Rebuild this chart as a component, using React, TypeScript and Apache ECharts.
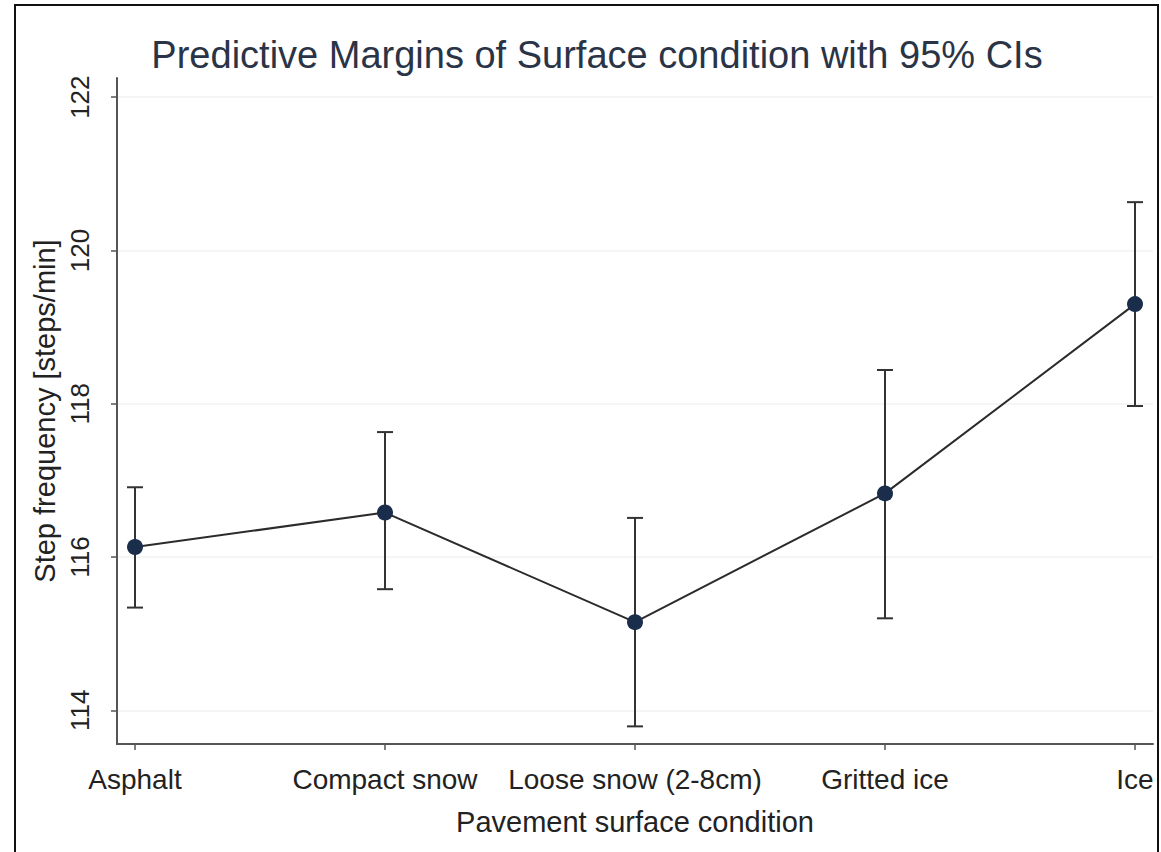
import React, { useEffect, useRef } from "react";
import * as echarts from "echarts";

const categories = ["Asphalt", "Compact snow", "Loose snow (2-8cm)", "Gritted ice", "Ice"];
const margins = [116.13, 116.58, 115.15, 116.83, 119.3];
const ciLow = [115.34, 115.58, 113.79, 115.2, 117.97];
const ciHigh = [116.91, 117.63, 116.51, 118.44, 120.63];
const yTicks = [114, 116, 118, 120, 122];

const FONT = "'Liberation Sans', Arial, sans-serif";

export default function App() {
  const ref = useRef<HTMLDivElement>(null);
  useEffect(() => {
    document.body.style.margin = "0";
    const chart = echarts.init(ref.current!, null, { renderer: "svg" });
    const xIdx = categories.map((_, i) => i);
    chart.setOption({
      animation: false,
      backgroundColor: "#ffffff",
      title: {
        text: "Predictive Margins of Surface condition with 95% CIs",
        left: 592,
        top: 31,
        textAlign: "center",
        textStyle: { fontFamily: FONT, fontSize: 38, fontWeight: "normal", color: "#2a3446" },
      },
      grid: { left: 117, right: 8, top: 78, bottom: 108 },
      xAxis: {
        type: "value",
        min: -0.072,
        max: 4.072,
        axisLine: { show: true, onZero: false, lineStyle: { color: "#555", width: 2 } },
        axisTick: { show: true, customValues: xIdx, length: 6, lineStyle: { color: "#555", width: 1.5 } },
        axisLabel: {
          customValues: xIdx,
          formatter: (v: number) => categories[Math.round(v)] ?? "",
          fontFamily: FONT,
          fontSize: 28,
          color: "#222",
          margin: 21,
        },
        splitLine: { show: false },
        name: "Pavement surface condition",
        nameLocation: "middle",
        nameGap: 63,
        nameTextStyle: { fontFamily: FONT, fontSize: 29, color: "#222" },
      },
      yAxis: {
        type: "value",
        min: 113.56,
        max: 122.25,
        axisLine: { show: true, onZero: false, lineStyle: { color: "#555", width: 2 } },
        axisTick: { show: true, customValues: yTicks, length: 6, lineStyle: { color: "#555", width: 1.5 } },
        axisLabel: {
          customValues: yTicks,
          rotate: 90,
          fontFamily: FONT,
          fontSize: 26,
          color: "#222",
          margin: 24,
        },
        splitLine: { show: true, lineStyle: { color: "#f2f2f2", width: 1.5 } },
        name: "Step frequency [steps/min]",
        nameLocation: "middle",
        nameGap: 51,
        nameTextStyle: { fontFamily: FONT, fontSize: 29, color: "#222" },
      },
      series: [
        {
          type: "custom",
          z: 1,
          data: xIdx.map((i) => [i, ciLow[i], ciHigh[i]]),
          renderItem: (params: any, api: any) => {
            const x = api.value(0);
            const lo = api.coord([x, api.value(1)]);
            const hi = api.coord([x, api.value(2)]);
            const w = 8;
            const style = { stroke: "#333", lineWidth: 2 };
            return {
              type: "group",
              children: [
                { type: "line", shape: { x1: lo[0], y1: lo[1], x2: hi[0], y2: hi[1] }, style },
                { type: "line", shape: { x1: lo[0] - w, y1: lo[1], x2: lo[0] + w, y2: lo[1] }, style },
                { type: "line", shape: { x1: hi[0] - w, y1: hi[1], x2: hi[0] + w, y2: hi[1] }, style },
              ],
            };
          },
        },
        {
          type: "line",
          z: 2,
          data: xIdx.map((i) => [i, margins[i]]),
          lineStyle: { color: "#2b2b2b", width: 2 },
          symbol: "circle",
          symbolSize: 16,
          itemStyle: { color: "#1a2d4a" },
        },
      ],
      graphic: [
        {
          type: "rect",
          shape: { x: 15, y: 5, width: 1143, height: 860 },
          style: { fill: "none", stroke: "#111", lineWidth: 2 },
          silent: true,
        },
      ],
    });
    return () => chart.dispose();
  }, []);
  return <div ref={ref} style={{ position: "absolute", left: 0, top: 0, width: 1161, height: 852 }} />;
}
